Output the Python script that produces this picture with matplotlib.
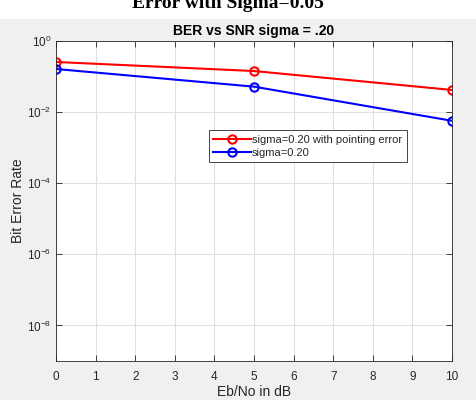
import matplotlib
matplotlib.use("Agg")
import matplotlib.pyplot as plt
from matplotlib.patches import Rectangle
from matplotlib.ticker import FixedLocator, NullLocator

# values
snr_db = [0, 5, 10]
ber_pointing = [0.257, 0.143, 0.042]
ber_plain = [0.163, 0.052, 0.0057]
x_ticks = list(range(0, 11))
y_ticks = [1e-8, 1e-6, 1e-4, 1e-2, 1e0]

plt.rcParams['font.family'] = ['Liberation Sans', 'DejaVu Sans']

fig = plt.figure(figsize=(4.77, 4.00), dpi=100)
fig.patch.set_facecolor('white')
# grey MATLAB figure background under the white strip
fig.patches.append(Rectangle((0, 0), 1, 1 - 19 / 400, transform=fig.transFigure,
                             facecolor='#f0f0f0', edgecolor='none', zorder=-5))
# caption from the page, cut off at the top as in the screenshot
fig.text(228 / 477, 1 - 8 / 400, 'Error with Sigma=0.05', ha='center', va='baseline',
         fontsize=14, fontweight='bold', family=['Liberation Serif', 'DejaVu Serif'])

ax = fig.add_axes([56 / 477, 1 - 361 / 400, 396 / 477, 320 / 400])
ax.set_facecolor('white')
ax.semilogy(snr_db, ber_pointing, '-o', color='red', linewidth=1.5, markersize=6,
            markerfacecolor='none', markeredgewidth=1.5, label='sigma=0.20 with pointing error')
ax.semilogy(snr_db, ber_plain, '-o', color='blue', linewidth=1.5, markersize=6,
            markerfacecolor='none', markeredgewidth=1.5, label='sigma=0.20')

ax.set_xlim(0, 10)
ax.set_ylim(1e-9, 1)
ax.xaxis.set_major_locator(FixedLocator(x_ticks))
ax.yaxis.set_major_locator(FixedLocator(y_ticks))
ax.yaxis.set_minor_locator(NullLocator())
ax.grid(True, color='#e0e0e0', linewidth=0.8)
ax.tick_params(direction='in', top=True, right=True, length=4, labelsize=8.5,
               colors='#262626', width=0.6)
ax.tick_params(axis='x', pad=7)
for s in ax.spines.values():
    s.set_color('#262626')
    s.set_linewidth(0.6)

ax.set_title('BER vs SNR sigma = .20', fontsize=10, fontweight='bold', pad=4)
ax.set_xlabel('Eb/No in dB', fontsize=10, color='#262626', labelpad=2)
ax.set_ylabel('Bit Error Rate', fontsize=10, color='#262626', labelpad=1)

leg = ax.legend(loc='upper left', bbox_to_anchor=(0.372, 0.738), fontsize=8,
                fancybox=False, framealpha=1, edgecolor='#262626',
                handlelength=3.4, handletextpad=0.1, borderpad=0.4, labelspacing=0.25)
leg.get_frame().set_linewidth(0.6)
for t in leg.get_texts():
    t.set_color('#262626')

fig.savefig('out.png', dpi=100, facecolor=fig.get_facecolor())
